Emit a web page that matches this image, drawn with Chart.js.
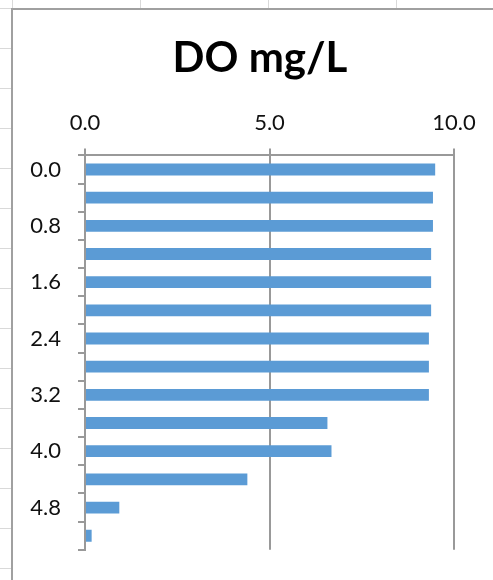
<!DOCTYPE html>
<html>
<head>
<meta charset="utf-8">
<script src="https://cdn.jsdelivr.net/npm/chart.js@4/dist/chart.umd.min.js"></script>
<style>
  html, body { margin: 0; padding: 0; width: 493px; height: 580px; overflow: hidden; }
  body {
    background-color: #fff;
    background-image:
      linear-gradient(to right, #d9d9d9 1px, transparent 1px),
      linear-gradient(to bottom, #d9d9d9 1px, transparent 1px);
    background-size: 128px 40px;
    background-position: 12px 8px;
    position: relative;
  }
  .chart-box {
    position: absolute; left: 11px; top: 8px;
    width: 482px; height: 572px;
    border-left: 2px solid #a0a0a0; border-top: 2px solid #a0a0a0;
    background: #fff;
  }
  canvas { display: block; }
</style>
</head>
<body>
<div class="chart-box">
  <canvas id="chart" width="480" height="570"></canvas>
</div>
<script>
// depth (m) and dissolved oxygen readings
const depths = ['0.0', '0.4', '0.8', '1.2', '1.6', '2.0', '2.4', '2.8', '3.2', '3.6', '4.0', '4.4', '4.8', '5.2'];
const doValues = [9.49, 9.43, 9.43, 9.38, 9.38, 9.38, 9.32, 9.32, 9.32, 6.57, 6.68, 4.40, 0.93, 0.18];
const xTicks = [0, 5, 10];

const font = 'Lato, "Liberation Sans", sans-serif';
const axisGray = '#999999';

const ctx = document.getElementById('chart').getContext('2d');
new Chart(ctx, {
  type: 'bar',
  data: {
    labels: depths,
    datasets: [{
      data: doValues,
      xAxisID: 'x',
      yAxisID: 'y',
      backgroundColor: '#5b9bd5',
      categoryPercentage: 1,
      barPercentage: 0.42
    }]
  },
  options: {
    indexAxis: 'y',
    responsive: false,
    animation: false,
    layout: { padding: { left: 14, right: 0, top: 0, bottom: 28 } },
    plugins: {
      legend: { display: false },
      tooltip: { enabled: false },
      title: {
        display: true,
        text: 'DO mg/L',
        color: '#000',
        font: { family: font, size: 42, weight: 'bold' },
        padding: { top: 23, bottom: 27 }
      }
    },
    scales: {
      x: {
        position: 'top',
        min: xTicks[0],
        max: xTicks[xTicks.length - 1],
        afterFit: (s) => { s.height = 45; },
        afterBuildTicks: (s) => { s.ticks = xTicks.map(v => ({ value: v })); },
        ticks: {
          padding: 12,
          color: '#111',
          font: { family: font, size: 22 },
          callback: (v) => Number(v).toFixed(1)
        },
        grid: { color: axisGray, lineWidth: 2, tickLength: 7 },
        border: { display: true, color: axisGray, width: 2 }
      },
      y: {
        afterFit: (s) => { s.width = 58; },
        ticks: {
          autoSkip: false,
          padding: 17,
          color: '#111',
          font: { family: font, size: 22 },
          callback: (v, i) => (i % 2 === 0 ? depths[i] : '')
        },
        grid: { offset: true, drawOnChartArea: false, drawTicks: true, tickLength: 7, color: axisGray, lineWidth: 2 },
        border: { display: true, color: axisGray, width: 2 }
      },
      // empty strip on the right so the title centres like the original
      rightPad: {
        type: 'linear',
        axis: 'y',
        position: 'right',
        min: 0,
        max: 1,
        afterFit: (s) => { s.width = 39; },
        ticks: { display: false },
        grid: { display: false },
        border: { display: false }
      }
    }
  }
});
</script>
</body>
</html>
